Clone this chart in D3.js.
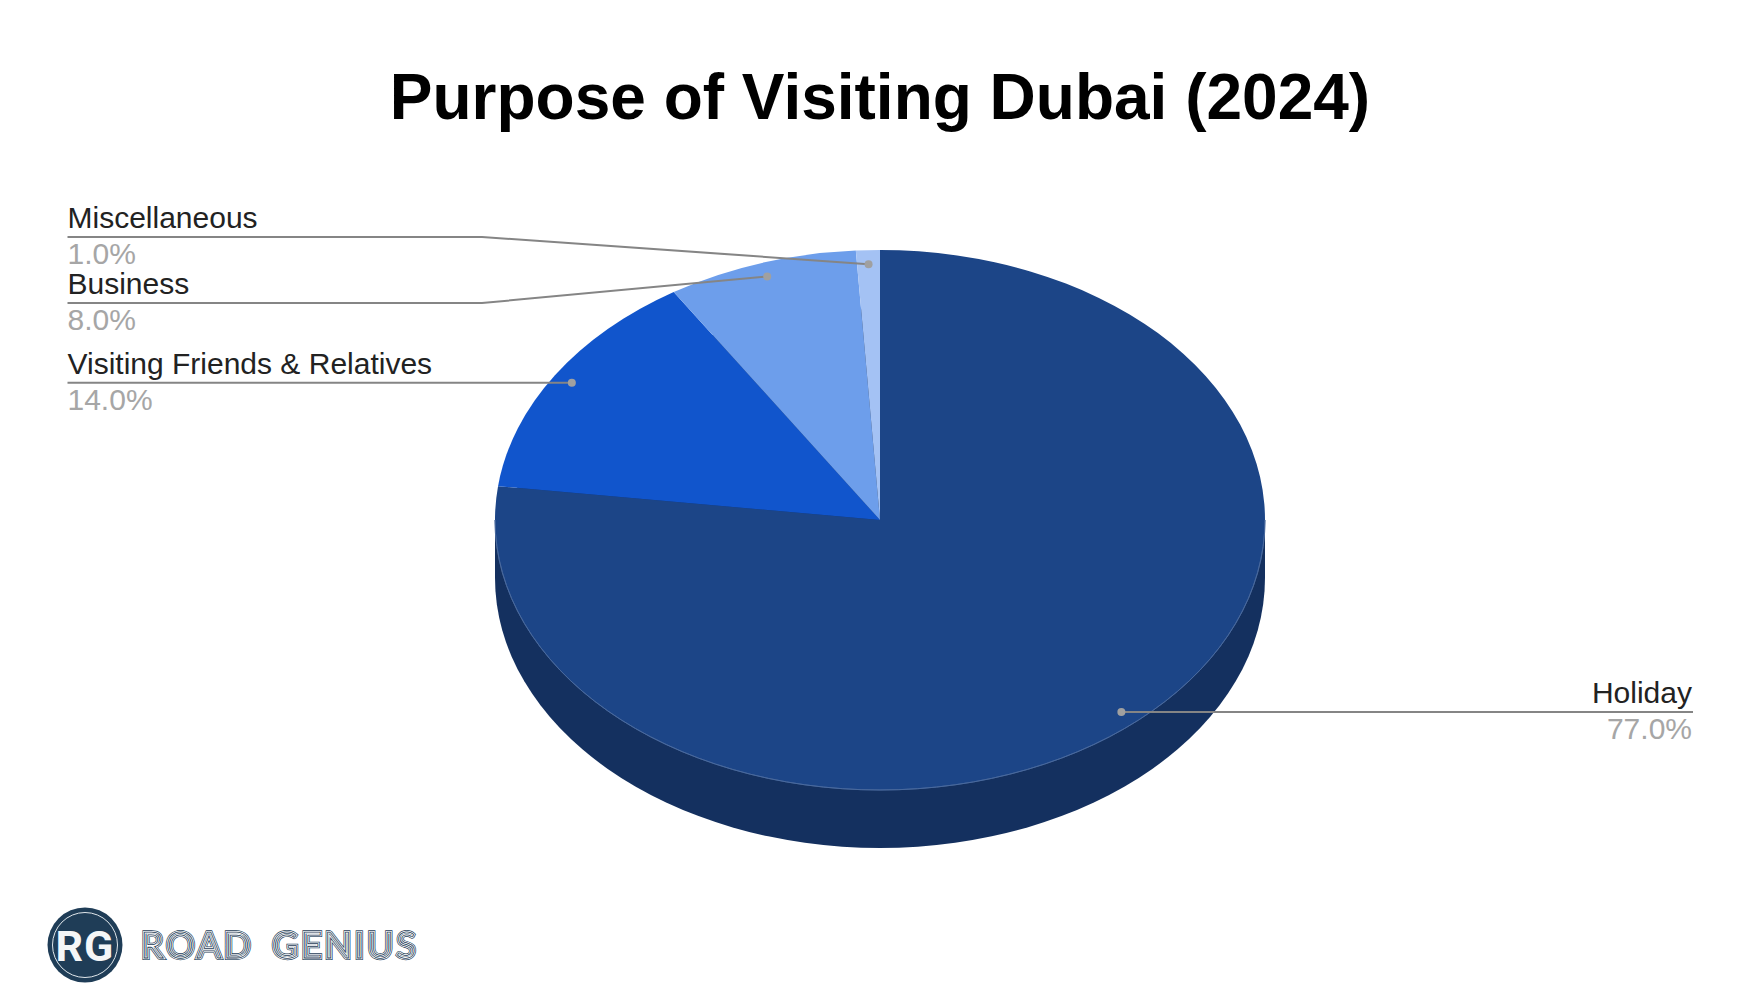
<!DOCTYPE html>
<html>
<head>
<meta charset="utf-8">
<script src="https://cdn.jsdelivr.net/npm/d3@7/dist/d3.min.js"></script>
<style>
html,body{margin:0;padding:0;background:#fff;}
svg{display:block;font-family:"Liberation Sans",Arial,sans-serif;}
</style>
</head>
<body>
<script>
const chartTitle = "Purpose of Visiting Dubai (2024)";
const categories = ["Holiday", "Visiting Friends & Relatives", "Business", "Miscellaneous"];
const values = [77, 14, 8, 1];
const colors = ["#1c4587", "#1155cc", "#6d9eeb", "#a4c2f4"];
const sideColor = "#14305f";

const W = 1760, H = 1000;
const cx = 880, cy = 520, rx = 385, ry = 270, depth = 58;
const squash = ry / rx;
const leaderColor = "#858585", dotColor = "#a0a0a0";

const svg = d3.select("body").append("svg").attr("width", W).attr("height", H).attr("viewBox", `0 0 ${W} ${H}`);

svg.append("text").attr("x", 880).attr("y", 119).attr("text-anchor", "middle")
  .attr("font-size", 64).attr("font-weight", 700).attr("fill", "#000").text(chartTitle);

const pieGen = d3.pie().sort(null).value(d => d.value);
const arcs = pieGen(categories.map((c, i) => ({ name: c, value: values[i], color: colors[i] })));
const arcGen = d3.arc().innerRadius(0).outerRadius(rx);

// extruded side: the same disc repeated below, joined to the top one
const sideFace = svg.append("g");
sideFace.append("path").attr("transform", `translate(${cx},${cy + depth}) scale(1,${squash})`)
  .attr("d", arcGen({ startAngle: 0, endAngle: 2 * Math.PI })).attr("fill", sideColor);
sideFace.append("rect").attr("x", cx - rx).attr("y", cy).attr("width", 2 * rx).attr("height", depth).attr("fill", sideColor);

const topFace = svg.append("g").attr("transform", `translate(${cx},${cy}) scale(1,${squash})`);
topFace.selectAll("path").data(arcs).join("path")
  .attr("d", arcGen).attr("fill", d => d.data.color)
  .attr("stroke", "none");
// faint rim on the visible front edge
topFace.append("path").attr("d", d3.arc().innerRadius(rx).outerRadius(rx)({ startAngle: Math.PI / 2, endAngle: 1.5 * Math.PI }))
  .attr("fill", "none").attr("stroke", "#4a6a9e").attr("stroke-width", 1);

const lineGen = d3.line();
// label row y for each category, left x / elbow x
const rowY = { "Miscellaneous": 237, "Business": 303 };
const leftX = 67.5, elbowX = 482, rightX = 1693;
const labels = svg.append("g");
arcs.forEach(a => {
  const mid = (a.startAngle + a.endAngle) / 2;
  const px = cx + Math.sin(mid) * rx * 0.948;
  const py = cy - Math.cos(mid) * ry * 0.948;
  const isRight = Math.sin(mid) > 0;
  const y = rowY[a.data.name] !== undefined ? rowY[a.data.name] : py;
  const pts = isRight ? [[px, py], [rightX, y]] : [[leftX, y], [elbowX, y], [px, py]];
  labels.append("path").attr("d", lineGen(pts)).attr("fill", "none")
    .attr("stroke", leaderColor).attr("stroke-width", 2);
  labels.append("ellipse").attr("cx", px).attr("cy", py).attr("rx", 4).attr("ry", 4).attr("fill", dotColor);
  const tx = isRight ? rightX - 1 : leftX;
  const anchor = isRight ? "end" : "start";
  labels.append("text").attr("x", tx).attr("y", y - 9).attr("text-anchor", anchor)
    .attr("font-size", 30).attr("fill", "#222").text(a.data.name);
  labels.append("text").attr("x", tx).attr("y", y + 27).attr("text-anchor", anchor)
    .attr("font-size", 30).attr("fill", "#a6a6a6").text(a.data.value.toFixed(1) + "%");
});

// logo
const logo = svg.append("g");
const navy = "#1f3d57";
logo.append("circle").attr("cx", 85).attr("cy", 945).attr("r", 37.5).attr("fill", navy);
logo.append("circle").attr("cx", 85).attr("cy", 945).attr("r", 32.5).attr("fill", "none").attr("stroke", "#dfe6ea").attr("stroke-width", 1);
logo.append("text").attr("x", 85).attr("y", 960.5).attr("text-anchor", "middle")
  .attr("font-size", 43).attr("font-weight", 700).attr("font-family", "Roboto, sans-serif").attr("letter-spacing", 1)
  .attr("fill", "#f4f6f7").text("RG");

const wordmarks = [{ text: "ROAD", x: 141 }, { text: "GENIUS", x: 272 }];
wordmarks.forEach(wm => {
  [[navy, 3.8], ["#ffffff", 2.4], [navy, 0.8]].forEach(([c, w]) => {
    logo.append("text").attr("x", wm.x).attr("y", 958).attr("font-size", 36)
      .attr("font-family", "Lato, sans-serif").attr("letter-spacing", 2.6)
      .style("text-rendering", "geometricPrecision")
      .attr("fill", "none").attr("stroke", c).attr("stroke-width", w).text(wm.text);
  });
});
</script>
</body>
</html>
